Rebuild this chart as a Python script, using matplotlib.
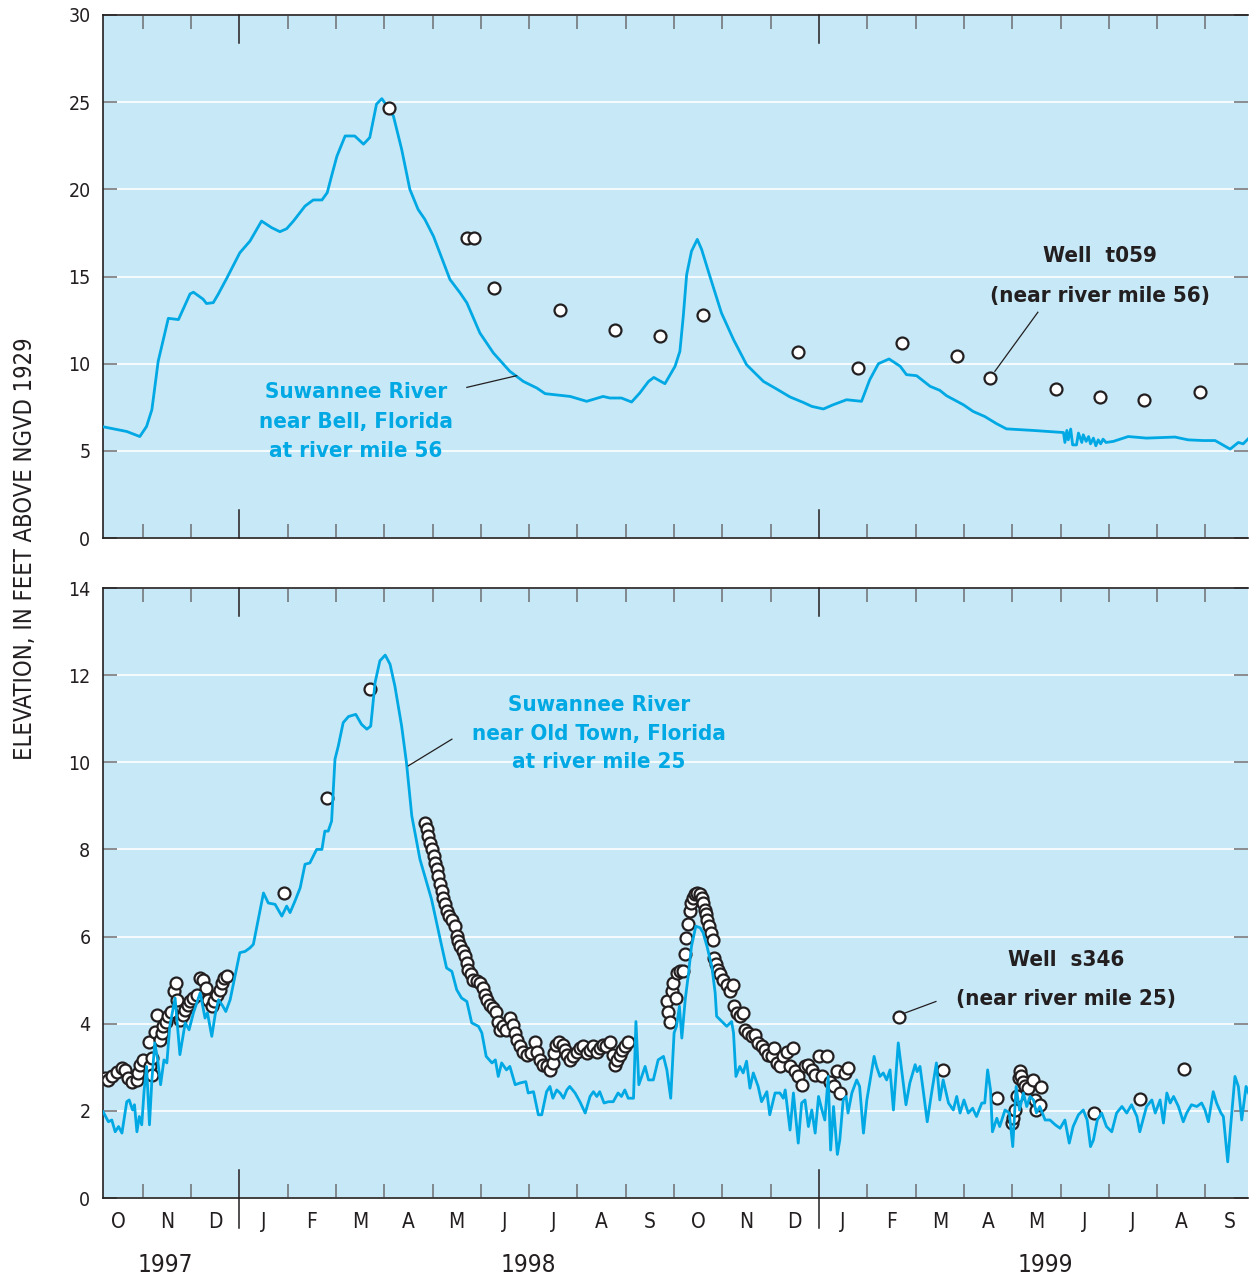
import matplotlib
matplotlib.use('Agg')
import matplotlib.pyplot as plt
import matplotlib.transforms as mtrans
from matplotlib import font_manager

avail = {f.name for f in font_manager.fontManager.ttflist}
if 'Liberation Sans Narrow' in avail:
    plt.rcParams['font.family'] = ['Liberation Sans Narrow', 'DejaVu Sans']
else:
    plt.rcParams['font.family'] = ['DejaVu Sans']
    plt.rcParams['font.stretch'] = 'condensed'

# ---------------- data (time = months since 1 Oct 1997) ----------------
MONTHS = ['O', 'N', 'D', 'J', 'F', 'M', 'A', 'M', 'J', 'J', 'A', 'S',
          'O', 'N', 'D', 'J', 'F', 'M', 'A', 'M', 'J', 'J', 'A', 'S']
YEARS = ['1997', '1998', '1999']
YEAR_POS = [1.46, 8.98, 19.68]

# Suwannee River near Bell (stage, ft)
bell_t = [0.18, 0.67, 0.94, 1.08, 1.19, 1.32, 1.53, 1.74, 1.98, 2.05, 2.25, 2.32, 2.46,
          2.56, 2.74, 3.01, 3.22, 3.46, 3.67, 3.84, 3.98, 4.12, 4.36, 4.53, 4.71, 4.82,
          4.91, 5.02, 5.19, 5.39, 5.57, 5.70, 5.84, 5.95, 6.08, 6.19, 6.36, 6.53, 6.70,
          6.84, 7.02, 7.36, 7.57, 7.71, 7.98, 8.26, 8.60, 8.88, 9.16, 9.33, 9.85, 10.19,
          10.53, 10.67, 10.91, 11.12, 11.29, 11.47, 11.58, 11.81, 12.02, 12.12, 12.19,
          12.26, 12.36, 12.48, 12.57, 12.74, 12.98, 13.23, 13.50, 13.85, 14.12, 14.40,
          14.67, 14.85, 15.09, 15.29, 15.57, 15.88, 16.05, 16.23, 16.45, 16.68, 16.81,
          17.02, 17.30, 17.50, 17.64, 17.99, 18.19, 18.43, 18.68, 18.88, 19.43, 20.06,
          20.09, 20.13, 20.16, 20.21, 20.25, 20.33, 20.37, 20.44, 20.47, 20.53, 20.58,
          20.62, 20.68, 20.73, 20.78, 20.83, 20.88, 20.94, 21.09, 21.40, 21.78, 22.37,
          22.64, 22.95, 23.20, 23.51, 23.68, 23.78, 23.92]
bell_stage = [6.38, 6.11, 5.82, 6.40, 7.36, 10.13, 12.60, 12.53, 14.00, 14.10, 13.70,
              13.45, 13.50, 13.97, 14.90, 16.36, 17.03, 18.18, 17.80, 17.57, 17.74, 18.18,
              19.04, 19.39, 19.39, 19.81, 20.77, 21.90, 23.06, 23.06, 22.59, 22.97, 24.89,
              25.20, 24.70, 24.20, 22.30, 20.00, 18.85, 18.28, 17.30, 14.83, 14.06, 13.49,
              11.76, 10.61, 9.56, 8.98, 8.60, 8.28, 8.12, 7.84, 8.12, 8.03, 8.03, 7.80,
              8.32, 8.98, 9.21, 8.85, 9.85, 10.71, 12.72, 15.11, 16.45, 17.13, 16.55,
              15.02, 12.91, 11.38, 9.94, 8.98, 8.55, 8.09, 7.78, 7.55, 7.40, 7.64, 7.93,
              7.84, 9.08, 10.00, 10.27, 9.85, 9.37, 9.31, 8.70, 8.47, 8.16, 7.64, 7.26,
              6.97, 6.55, 6.26, 6.17, 6.05,
              5.48, 6.17, 5.63, 6.25, 5.34, 5.34, 6.02, 5.48, 5.92, 5.54, 5.82, 5.40,
              5.73, 5.29, 5.63, 5.40, 5.67, 5.48, 5.54, 5.82, 5.73, 5.79, 5.63, 5.59,
              5.59, 5.10, 5.48, 5.40, 5.79]

# Well t059 (near river mile 56)
t059_t = [6.10, 7.71, 7.86, 8.28, 9.64, 10.78, 11.70, 12.60, 14.56, 15.80, 16.72,
          17.86, 18.53, 19.91, 20.82, 21.73, 22.88]
t059_level = [24.66, 17.22, 17.22, 14.33, 13.05, 11.92, 11.61, 12.78, 10.65, 9.75,
              11.19, 10.42, 9.18, 8.55, 8.06, 7.89, 8.35]

# Suwannee River near Old Town (stage, ft)
ot_t = [0.18, 0.29, 0.36, 0.43, 0.50, 0.57, 0.67, 0.72, 0.79, 0.83, 0.88, 0.93, 0.98,
        1.03, 1.08, 1.14, 1.19, 1.25, 1.31, 1.37, 1.44, 1.50, 1.56, 1.67, 1.77, 1.88,
        1.96, 2.05, 2.19, 2.29, 2.34, 2.43, 2.50, 2.57, 2.66, 2.72, 2.81, 2.91, 3.01,
        3.12, 3.22, 3.29, 3.50, 3.60, 3.74, 3.88, 3.98, 4.05, 4.15, 4.26, 4.36, 4.46,
        4.60, 4.71, 4.77, 4.84, 4.91, 4.98, 5.05, 5.15, 5.26, 5.41, 5.53, 5.64, 5.72,
        5.81, 5.91, 6.02, 6.12, 6.22, 6.36, 6.46, 6.57, 6.74, 6.88, 6.98, 7.16, 7.29,
        7.40, 7.50, 7.60, 7.71, 7.81, 7.95, 8.02, 8.11, 8.23, 8.30, 8.36, 8.43, 8.53,
        8.60, 8.71, 8.81, 8.93, 8.98, 9.09, 9.19, 9.26, 9.36, 9.43, 9.49, 9.57, 9.64,
        9.71, 9.78, 9.84, 9.95, 10.05, 10.16, 10.26, 10.33, 10.40, 10.46, 10.55, 10.64,
        10.74, 10.84, 10.91, 10.98, 11.05, 11.16, 11.21, 11.27, 11.33, 11.40, 11.47,
        11.57, 11.67, 11.78, 11.85, 11.93, 12.00, 12.05, 12.11, 12.16, 12.23, 12.30,
        12.36, 12.45, 12.54, 12.60, 12.68, 12.78, 12.85, 12.88, 12.99, 13.09, 13.19,
        13.23, 13.28, 13.36, 13.43, 13.50, 13.57, 13.64, 13.74, 13.81, 13.92, 13.98,
        14.09, 14.19, 14.26, 14.30, 14.40, 14.47, 14.57, 14.64, 14.71, 14.78, 14.85,
        14.92, 14.99, 15.06, 15.12, 15.19, 15.24, 15.30, 15.38, 15.43, 15.50, 15.56,
        15.60, 15.68, 15.78, 15.84, 15.92, 15.99, 16.06, 16.14, 16.19, 16.26, 16.33,
        16.40, 16.47, 16.54, 16.64, 16.80, 16.88, 16.99, 17.03, 17.09, 17.16, 17.24,
        17.33, 17.43, 17.50, 17.57, 17.68, 17.78, 17.85, 17.92, 18.00, 18.09, 18.18,
        18.26, 18.37, 18.43, 18.49, 18.55, 18.59, 18.68, 18.74, 18.85, 18.94, 19.01,
        19.08, 19.15, 19.23, 19.30, 19.37, 19.44, 19.50, 19.57, 19.68, 19.78, 19.89,
        19.99, 20.09, 20.18, 20.26, 20.37, 20.47, 20.55, 20.62, 20.68, 20.76, 20.85,
        20.95, 21.06, 21.16, 21.27, 21.37, 21.47, 21.58, 21.64, 21.78, 21.89, 21.96,
        22.06, 22.13, 22.20, 22.27, 22.34, 22.44, 22.54, 22.61, 22.71, 22.82, 22.92,
        22.99, 23.06, 23.16, 23.23, 23.32, 23.37, 23.46, 23.52, 23.61, 23.68, 23.75,
        23.84, 23.92]
ot_stage = [1.98, 1.75, 1.79, 1.52, 1.64, 1.49, 2.21, 2.25, 2.02, 2.14, 1.52, 1.87, 1.68,
            2.48, 3.02, 1.68, 2.71, 3.56, 3.17, 2.60, 3.17, 3.10, 3.94, 4.59, 3.29, 4.02,
            3.86, 4.25, 4.71, 4.13, 4.25, 3.71, 4.21, 4.55, 4.40, 4.28, 4.55, 5.09, 5.63,
            5.66, 5.74, 5.82, 7.00, 6.77, 6.74, 6.47, 6.70, 6.55, 6.81, 7.12, 7.66, 7.69,
            8.00, 8.00, 8.42, 8.42, 8.65, 10.07, 10.38, 10.91, 11.05, 11.10, 10.87, 10.76,
            10.83, 11.83, 12.33, 12.46, 12.25, 11.75, 10.83, 9.99, 8.77, 7.77, 7.23, 6.85,
            5.93, 5.28, 5.20, 4.78, 4.59, 4.51, 4.02, 3.94, 3.79, 3.25, 3.10, 3.17, 2.79,
            3.10, 2.94, 3.02, 2.60, 2.64, 2.67, 2.41, 2.44, 1.91, 1.91, 2.44, 2.56, 2.29,
            2.48, 2.41, 2.29, 2.48, 2.56, 2.41, 2.21, 1.95, 2.33, 2.44, 2.33, 2.44, 2.18,
            2.21, 2.21, 2.41, 2.33, 2.48, 2.29, 2.29, 4.05, 2.60, 2.79, 3.02, 2.71, 2.71,
            3.17, 3.25, 2.94, 2.29, 3.79, 3.94, 4.40, 3.67, 4.55, 5.17, 5.78, 6.24, 6.20,
            6.09, 5.78, 5.32, 4.71, 4.17, 4.05, 3.94, 4.05, 3.79, 2.79, 3.02, 2.87, 3.14,
            2.52, 2.87, 2.56, 2.21, 2.44, 1.91, 2.41, 2.41, 2.29, 2.48, 1.56, 2.41, 1.26,
            2.18, 2.25, 1.64, 2.02, 1.49, 2.33, 2.02, 1.79, 2.79, 1.10, 2.10, 1.00, 1.33,
            2.25, 2.33, 1.95, 2.41, 2.71, 2.56, 1.49, 2.25, 2.71, 3.25, 3.02, 2.79, 2.87,
            2.71, 2.94, 2.02, 3.56, 2.14, 2.64, 3.06, 2.90, 3.02, 2.44, 1.75, 2.41, 3.10,
            2.25, 2.71, 2.18, 2.02, 2.33, 1.95, 2.25, 1.95, 2.06, 1.87, 2.18, 2.18, 2.94,
            2.48, 1.52, 1.83, 1.64, 2.02, 1.95, 1.18, 2.56, 2.02, 2.41, 2.10, 2.33, 2.25,
            1.95, 2.10, 1.79, 1.79, 1.68, 1.60, 1.79, 1.26, 1.64, 1.91, 2.02, 1.79, 1.18,
            1.33, 1.79, 1.95, 1.64, 1.52, 1.95, 2.10, 1.95, 2.14, 1.87, 1.52, 2.10, 2.25,
            1.95, 2.25, 1.72, 2.41, 2.18, 2.33, 2.10, 1.75, 1.95, 2.14, 2.10, 2.18, 2.02,
            1.75, 2.44, 2.18, 1.95, 1.87, 0.83, 1.64, 2.79, 2.56, 1.79, 2.56, 2.33]

# Well s346 (near river mile 25)
s346_t = [0.22, 0.29, 0.36, 0.46, 0.57, 0.63, 0.70, 0.77, 0.88, 0.91, 0.94, 1.01, 1.12,
          1.15, 1.19, 1.19, 1.25, 1.29, 1.36, 1.39, 1.43, 1.48, 1.53, 1.59, 1.64, 1.68,
          1.70, 1.77, 1.83, 1.88, 1.93, 1.98, 2.05, 2.12, 2.19, 2.24, 2.31, 2.36, 2.43,
          2.48, 2.53, 2.59, 2.64, 2.69, 2.74,
          3.92, 4.82, 5.70,
          6.84, 6.88, 6.91, 6.95, 6.98, 7.02, 7.05, 7.09, 7.12, 7.16, 7.19, 7.22, 7.26,
          7.29, 7.35, 7.40, 7.46, 7.50, 7.53, 7.57, 7.62, 7.67, 7.71, 7.74, 7.79, 7.84,
          7.91, 7.98, 8.04, 8.09, 8.13, 8.19, 8.26, 8.31, 8.36, 8.40, 8.46, 8.53, 8.60,
          8.66, 8.71, 8.75, 8.81, 8.88, 8.95, 9.03, 9.12, 9.16, 9.23, 9.29, 9.36, 9.43,
          9.49, 9.51, 9.55, 9.62, 9.69, 9.74, 9.79, 9.84, 9.91, 9.98, 10.05, 10.12,
          10.19, 10.26, 10.33, 10.40, 10.46, 10.53, 10.60, 10.67, 10.73, 10.78, 10.82,
          10.88, 10.93, 10.98, 11.05,
          11.85, 11.88, 11.92, 11.95, 11.98, 12.04, 12.07, 12.12, 12.19, 12.23, 12.25,
          12.28, 12.32, 12.34, 12.39, 12.43, 12.48, 12.54, 12.57, 12.60, 12.64, 12.66,
          12.69, 12.73, 12.76, 12.80, 12.83, 12.87, 12.91, 12.96, 13.02, 13.09, 13.16,
          13.21, 13.23, 13.30, 13.36, 13.43, 13.47, 13.53, 13.61, 13.67, 13.74, 13.81,
          13.88, 13.95, 14.02, 14.07, 14.12, 14.19, 14.26, 14.33, 14.40, 14.47, 14.50,
          14.57, 14.64, 14.71, 14.78, 14.85, 14.92, 14.99, 15.06, 15.16, 15.23, 15.30,
          15.37, 15.43, 15.54, 15.60,
          16.66, 17.57, 18.68,
          18.99, 19.02, 19.06, 19.09, 19.13, 19.16, 19.19, 19.23, 19.26, 19.33, 19.42,
          19.47, 19.50, 19.57, 19.59,
          20.70, 21.64, 22.55]
s346_level = [2.75, 2.71, 2.79, 2.90, 2.98, 2.94, 2.75, 2.67, 2.71, 2.87, 3.06, 3.17, 3.59,
              3.02, 3.21, 2.83, 3.82, 4.21, 3.63, 3.79, 3.94, 4.05, 4.17, 4.28, 4.74, 4.93,
              4.55, 4.09, 4.21, 4.32, 4.44, 4.51, 4.59, 4.67, 5.05, 5.01, 4.82, 4.55, 4.40,
              4.51, 4.67, 4.78, 4.93, 5.05, 5.09,
              6.99, 9.18, 11.68,
              8.61, 8.46, 8.31, 8.15, 8.00, 7.85, 7.69, 7.54, 7.39, 7.20, 7.04, 6.89, 6.74,
              6.58, 6.47, 6.39, 6.24, 6.01, 5.89, 5.78, 5.66, 5.55, 5.40, 5.24, 5.13, 5.01,
              4.97, 4.94, 4.82, 4.67, 4.55, 4.44, 4.36, 4.28, 4.05, 3.86, 3.94, 3.86, 4.13,
              3.98, 3.79, 3.63, 3.48, 3.36, 3.29, 3.33, 3.59, 3.36, 3.17, 3.06, 3.02, 2.94,
              3.10, 3.33, 3.52, 3.59, 3.52, 3.40, 3.29, 3.17, 3.25, 3.36, 3.44, 3.48,
              3.33, 3.40, 3.48, 3.36, 3.44, 3.52, 3.48, 3.59, 3.29, 3.06, 3.17,
              3.29, 3.40, 3.48, 3.59,
              4.51, 4.28, 4.05, 4.74, 4.93, 4.59, 5.17, 5.20, 5.20, 5.59, 5.97,
              6.28, 6.58, 6.77, 6.89, 6.97, 7.00, 6.97, 6.89, 6.77, 6.62, 6.51,
              6.39, 6.24, 6.09, 5.93, 5.51, 5.36, 5.24, 5.13, 5.01, 4.90, 4.74,
              4.90, 4.40, 4.25, 4.17, 4.25, 3.86, 3.79, 3.71, 3.75, 3.56, 3.48,
              3.40, 3.29, 3.25, 3.44, 3.10, 3.02, 3.25, 3.36, 3.02, 3.44, 2.91,
              2.79, 2.60, 3.02, 3.06, 2.94, 2.83, 3.25, 2.79, 3.25, 2.67, 2.56,
              2.91, 2.41, 2.87, 2.98,
              4.15, 2.94, 2.29,
              1.72, 1.83, 2.02, 2.33, 2.75, 2.91, 2.79, 2.67, 2.56, 2.52, 2.71,
              2.25, 2.02, 2.14, 2.55,
              1.95, 2.27, 2.96]

# ---------------- styling ----------------
BG = '#c6e8f7'
BLUE = '#00a8e4'
DARK = '#231f20'
TICKC = '#6d6e71'
W, H = 1250, 1279

fig = plt.figure(figsize=(W / 100, H / 100), dpi=100)
ax1 = fig.add_axes([103 / W, 1 - 538 / H, 1145 / W, 523 / H])
ax2 = fig.add_axes([103 / W, 1 - 1198 / H, 1145 / W, 610 / H])


def style(ax, ymax, ystep, ax_h_px, bottom_ext=0.0):
    ax.set_facecolor(BG)
    ax.set_xlim(0.178, 23.88)
    ax.set_ylim(0, ymax)
    ax.spines['right'].set_visible(False)
    for s in ('left', 'top', 'bottom'):
        ax.spines[s].set_color(DARK)
        ax.spines[s].set_linewidth(1.2)
    ax.set_xticks([m for m in range(1, 24) if m not in (3, 15)])
    ax.tick_params(axis='x', which='major', direction='in', length=10, width=1.1,
                   color=TICKC, top=True, bottom=True, labelbottom=False)
    ax.set_yticks(list(range(0, ymax + 1, ystep)))
    ax.tick_params(axis='y', direction='in', length=10, width=1.1, color=TICKC,
                   left=True, right=True, labelsize=14, pad=9, labelcolor=DARK)
    ax.grid(axis='y', color='white', lw=1.2)
    ax.set_axisbelow(True)
    tr = mtrans.blended_transform_factory(ax.transData, ax.transAxes)
    L = 28 / ax_h_px
    for m in (3, 15):
        ax.plot([m, m], [-bottom_ext, L], transform=tr, color=DARK, lw=1.1,
                clip_on=False, zorder=5)
        ax.plot([m, m], [1 - L, 1], transform=tr, color=DARK, lw=1.1,
                clip_on=False, zorder=5)


style(ax1, 30, 5, 523)
style(ax2, 14, 2, 610, bottom_ext=30 / 610)

mk = dict(ls='none', marker='o', ms=8.6, mfc='white', mec=DARK, mew=1.6)

# top panel
ax1.plot(bell_t, bell_stage, color=BLUE, lw=2.0, zorder=3)
ax1.plot(t059_t, t059_level, zorder=4, **mk)

# bottom panel
ax2.plot(s346_t, s346_level, zorder=3, **mk)
ax2.plot(ot_t, ot_stage, color=BLUE, lw=2.0, zorder=4)

# month / year labels
ax2.set_xticks([i + 0.5 for i in range(24)], MONTHS, minor=True)
ax2.tick_params(axis='x', which='minor', length=0, pad=10, labelsize=15,
                labelcolor=DARK, labelbottom=True)
trb = mtrans.blended_transform_factory(ax2.transData, ax2.transAxes)
for pos, yr in zip(YEAR_POS, YEARS):
    ax2.text(pos, -67 / 610, yr, transform=trb, ha='center', va='center',
             fontsize=17.5, color=DARK)

fig.text(25 / W, 1 - 549 / H, 'ELEVATION, IN FEET ABOVE NGVD 1929', rotation=90,
         ha='center', va='center', fontsize=17, color=DARK)

# annotations
bold = dict(ha='center', va='center', fontsize=16, fontweight='bold')
for txt, v in zip(['Suwannee River', 'near Bell, Florida', 'at river mile 56'],
                  [8.39, 6.67, 5.0]):
    ax1.text(5.415, v, txt, color=BLUE, **bold)
ax1.plot([7.71, 8.74], [8.64, 9.31], color=DARK, lw=0.9, zorder=3)
ax1.text(20.82, 16.15, 'Well  t059', color=DARK, **bold)
ax1.text(20.82, 13.91, '(near river mile 56)', color=DARK, **bold)
ax1.plot([19.53, 18.64], [12.95, 9.56], color=DARK, lw=0.9, zorder=3)

for txt, v in zip(['Suwannee River', 'near Old Town, Florida', 'at river mile 25'],
                  [11.31, 10.64, 10.0]):
    ax2.text(10.445, v, txt, color=BLUE, **bold)
ax2.plot([6.50, 7.40], [9.92, 10.53], color=DARK, lw=0.9, zorder=5)
ax2.text(20.11, 5.47, 'Well  s346', color=DARK, **bold)
ax2.text(20.11, 4.57, '(near river mile 25)', color=DARK, **bold)
ax2.plot([16.74, 17.42], [4.23, 4.51], color=DARK, lw=0.9, zorder=5)

fig.savefig('out.png', dpi=100)
